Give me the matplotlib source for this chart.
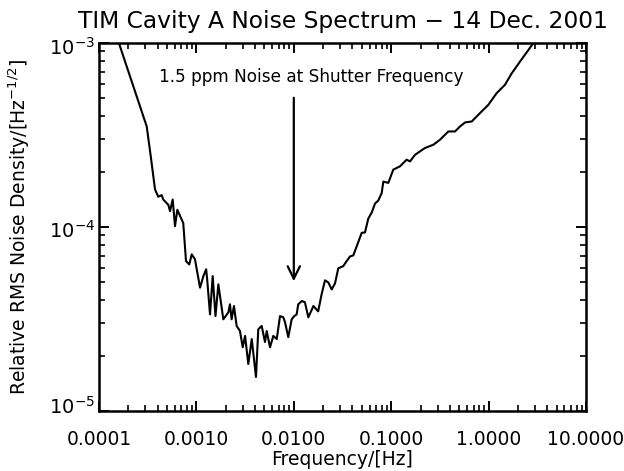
import numpy as np
import matplotlib
matplotlib.use("Agg")
import matplotlib.pyplot as plt
import matplotlib.transforms as mtransforms
from matplotlib.ticker import FixedLocator, FixedFormatter, NullFormatter

# Frequency [Hz]
freq = [1.27e-4, 1.60e-4, 3.09e-4, 3.40e-4, 3.76e-4, 4.06e-4, 4.40e-4, 4.57e-4, 5.15e-4, 5.36e-4,
        5.71e-4, 6.03e-4, 6.37e-4, 7.33e-4, 7.82e-4, 8.45e-4, 8.95e-4, 9.67e-4, 1.09e-3, 1.18e-3,
        1.26e-3, 1.29e-3, 1.38e-3, 1.47e-3, 1.57e-3, 1.68e-3, 1.89e-3, 2.13e-3, 2.21e-3, 2.30e-3,
        2.43e-3, 2.59e-3, 2.80e-3, 2.99e-3, 3.16e-3, 3.41e-3, 3.70e-3, 4.09e-3, 4.32e-3, 4.68e-3,
        5.06e-3, 5.27e-3, 5.70e-3, 6.16e-3, 6.68e-3, 7.22e-3, 7.80e-3, 8.12e-3, 8.78e-3, 9.51e-3,
        1.005e-2, 1.07e-2, 1.11e-2, 1.21e-2, 1.30e-2, 1.41e-2, 1.59e-2, 1.78e-2, 1.93e-2, 2.09e-2,
        2.26e-2, 2.45e-2, 2.65e-2, 2.86e-2, 3.22e-2, 3.49e-2, 3.78e-2, 4.08e-2, 4.42e-2, 4.98e-2,
        5.38e-2, 5.82e-2, 6.31e-2, 6.82e-2, 7.37e-2, 7.99e-2, 8.30e-2, 9.34e-2, 0.105, 0.123,
        0.144, 0.156, 0.176, 0.222, 0.271, 0.317, 0.386, 0.452, 0.509, 0.573,
        0.671, 0.816, 0.993, 1.21, 1.47, 1.73, 2.10, 2.56, 2.88, 3.37]

# Relative RMS noise density in units of 1e-5 Hz^-1/2
density_e5 = [143.5, 100, 35.2, 24.2, 16.0, 14.6, 14.9, 14.1, 13.2, 12.2,
              14.1, 10.1, 12.4, 10.5, 6.53, 6.26, 7.10, 6.67, 4.68, 5.41,
              5.89, 5.19, 3.35, 5.41, 3.28, 4.88, 3.15, 3.44, 3.80, 3.15,
              3.72, 2.90, 2.72, 2.22, 2.56, 1.80, 2.46, 1.53, 2.78, 2.90,
              2.37, 2.72, 2.22, 2.56, 2.46, 3.28, 3.23, 3.04, 2.52, 3.15,
              3.27, 3.35, 3.80, 3.96, 3.90, 3.23, 3.72, 3.48, 4.31, 5.13,
              5.00, 4.58, 4.94, 5.96, 6.13, 6.53, 6.92, 7.01, 7.84, 9.30,
              9.34, 11.12, 11.99, 13.41, 13.92, 15.32, 17.65, 17.37, 20.5, 21.36,
              23.22, 22.73, 24.7, 26.87, 28.0, 29.8, 33.05, 33.05, 35.2, 37.0,
              37.45, 41.6, 46.1, 53.4, 59.2, 68.5, 79.2, 91.6, 100, 117.6]

x_ticks = [1e-4, 1e-3, 1e-2, 1e-1, 1e0, 1e1]
x_tick_labels = ["0.0001", "0.0010", "0.0100", "0.1000", "1.0000", "10.0000"]
y_ticks = [1e-5, 1e-4, 1e-3]
y_tick_labels = [r"$10^{-5}$", r"$10^{-4}$", r"$10^{-3}$"]

arrow_freq = 0.01
arrow_top = 5.04e-4
arrow_tip = 5.07e-5
note_text = "1.5 ppm Noise at Shutter Frequency"
note_pos = (0.0150, 6.1e-4)

density = np.array(density_e5) * 1e-5

fig = plt.figure(figsize=(6.24, 4.71), dpi=100)
ax = fig.add_axes([99 / 624, 1 - 411 / 471, 487 / 624, 368 / 471])

ax.plot(freq, density, color="black", lw=1.5)
ax.set_xscale("log")
ax.set_yscale("log")
ax.set_xlim(1e-4, 10)
ax.set_ylim(1e-5, 1e-3)

for s in ax.spines.values():
    s.set_linewidth(1.8)

ax.xaxis.set_major_locator(FixedLocator(x_ticks))
ax.xaxis.set_major_formatter(FixedFormatter(x_tick_labels))
ax.yaxis.set_major_locator(FixedLocator(y_ticks))
ax.yaxis.set_major_formatter(FixedFormatter(y_tick_labels))
ax.xaxis.set_minor_formatter(NullFormatter())
ax.yaxis.set_minor_formatter(NullFormatter())

ax.tick_params(which="both", direction="in", top=True, right=True, color="black")
ax.tick_params(which="major", length=7, width=1.4)
ax.tick_params(which="minor", length=4, width=1.2)
ax.tick_params(axis="x", which="major", labelsize=13.5, pad=14)
ax.tick_params(axis="y", which="major", labelsize=14, pad=3)

# shift y tick labels like the reference (bottom one up, top one slightly down)
y_shift_px = {0: 6, 1: -2, 2: -3}
for i, lab in enumerate(ax.get_yticklabels()):
    dy = y_shift_px.get(i, 0)
    lab.set_transform(lab.get_transform() +
                      mtransforms.ScaledTranslation(0, dy / 100, fig.dpi_scale_trans))

ax.set_xlabel("Frequency/[Hz]", fontsize=13.5)
ax.xaxis.set_label_coords(0.5, -0.105)
ax.set_ylabel(r"Relative RMS Noise Density/[Hz$^{-1/2}$]", fontsize=13.5)
ax.yaxis.set_label_coords(-0.138, 0.5)

fig.text((99 + 586) / 2 / 624, 1 - 28 / 471, "TIM Cavity A Noise Spectrum \u2212 14 Dec. 2001",
         ha="center", va="baseline", fontsize=16.8)

ax.annotate("", xy=(arrow_freq, arrow_tip), xytext=(arrow_freq, arrow_top),
            arrowprops=dict(arrowstyle="->,head_length=0.45,head_width=0.22",
                            lw=1.6, color="black", mutation_scale=20,
                            shrinkA=0, shrinkB=0))
ax.text(note_pos[0], note_pos[1], note_text, ha="center", va="baseline", fontsize=12.2)

fig.savefig("out.png", dpi=100)
